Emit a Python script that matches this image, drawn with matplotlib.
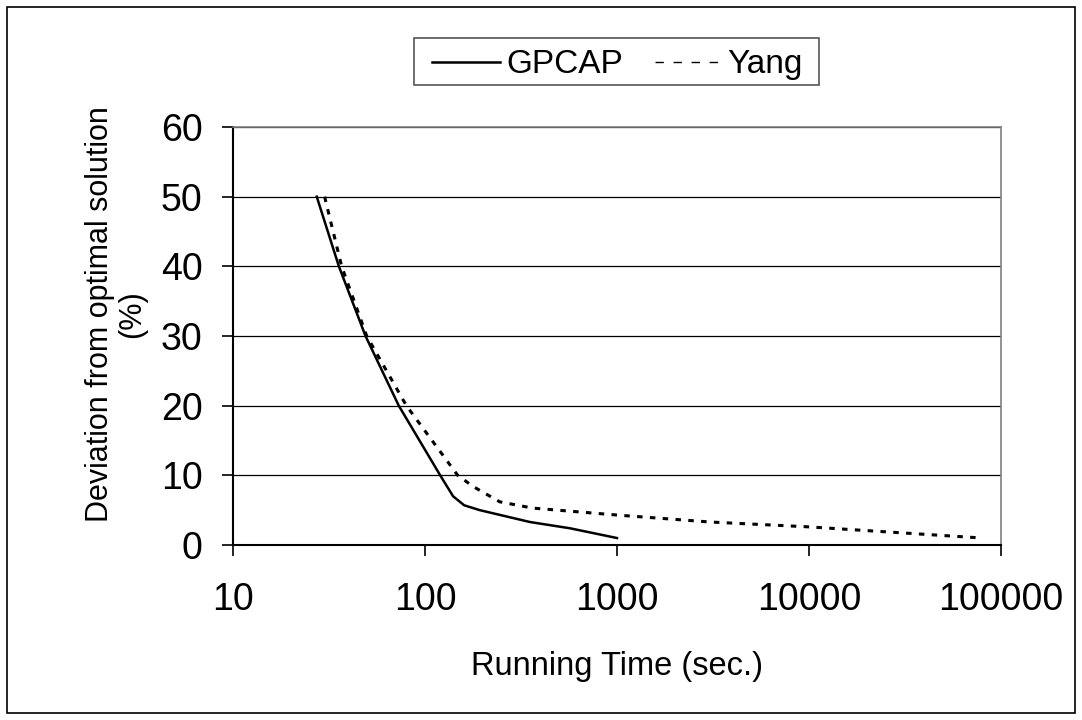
import matplotlib
matplotlib.use("Agg")
from matplotlib import pyplot as plt
from matplotlib.patches import Rectangle
from matplotlib.lines import Line2D

plt.rcParams['font.family'] = ['Liberation Sans', 'DejaVu Sans']

# values
gpcap_time = [27.3, 35.6, 49, 73, 120, 140, 160, 193, 352, 569, 1000]
gpcap_dev = [50, 40, 30, 20, 10, 7, 5.7, 5.0, 3.3, 2.4, 1.0]

yang_time = [30, 36.8, 49.7, 80, 148, 178, 245, 363, 1000, 3050, 10000, 80000]
yang_dev = [50, 40, 30, 20, 10, 8.4, 6.2, 5.3, 4.3, 3.3, 2.6, 1.0]

x_ticks = [10, 100, 1000, 10000, 100000]
y_ticks = [0, 10, 20, 30, 40, 50, 60]
series_names = ["GPCAP", "Yang"]

W, H = 1082, 720
fig = plt.figure(figsize=(W / 100, H / 100), dpi=100)


def fx(px):
    return px / W


def fy(py):
    return 1 - py / H


# outer chart border
fig.patches.append(Rectangle((fx(7), fy(713)), 1068 / W, 706 / H,
                             transform=fig.transFigure, fill=False,
                             edgecolor="black", linewidth=1.2))

ax = fig.add_axes([fx(233), fy(545), 768 / W, 418 / H])

ax.plot(gpcap_time, gpcap_dev, color="black", linewidth=1.8)
ax.plot(yang_time, yang_dev, color="black", linewidth=2.2,
        linestyle=(0, (1.8, 2.4)))

ax.set_xscale("log")
ax.set_xlim(10, 100000)
ax.set_ylim(0, 60)
ax.set_xticks(x_ticks)
ax.set_xticklabels([str(t) for t in x_ticks])
ax.minorticks_off()
ax.set_yticks(y_ticks)
ax.set_yticklabels([str(t) for t in y_ticks])
ax.tick_params(axis="both", labelsize=27, direction="out", length=8,
               width=1.2, colors="black")
ax.tick_params(axis="x", pad=19)
ax.tick_params(axis="y", pad=14)

ax.yaxis.grid(True, color="black", linewidth=0.9)
ax.set_axisbelow(True)
for side in ["left", "bottom"]:
    ax.spines[side].set_color("black")
    ax.spines[side].set_linewidth(1.5)
for side in ["top", "right"]:
    ax.spines[side].set_color("#808080")
    ax.spines[side].set_linewidth(1.2)

fig.text(fx(617), fy(675), "Running Time (sec.)", ha="center",
         va="baseline", fontsize=23.5)
fig.text(fx(116), fy(314), "Deviation from optimal solution\n(%)",
         ha="center", va="center", rotation=90, fontsize=22, linespacing=1.1)

# legend box drawn like the original (wide side padding, tight height)
fig.patches.append(Rectangle((fx(414), fy(85)), 405 / W, 47 / H,
                             transform=fig.transFigure, fill=False,
                             edgecolor="#555555", linewidth=1.2))
fig.lines.append(Line2D([fx(432), fx(500)], [fy(62), fy(62)],
                        transform=fig.transFigure, color="black",
                        linewidth=1.8))
fig.text(fx(506), fy(73), series_names[0], ha="left", va="baseline",
         fontsize=24)
fig.lines.append(Line2D([fx(655), fx(722)], [fy(62), fy(62)],
                        transform=fig.transFigure, color="black",
                        linewidth=1.0, linestyle=(0, (6, 7))))
fig.text(fx(727), fy(73), series_names[1], ha="left", va="baseline",
         fontsize=24)

fig.savefig("out.png", dpi=100)
